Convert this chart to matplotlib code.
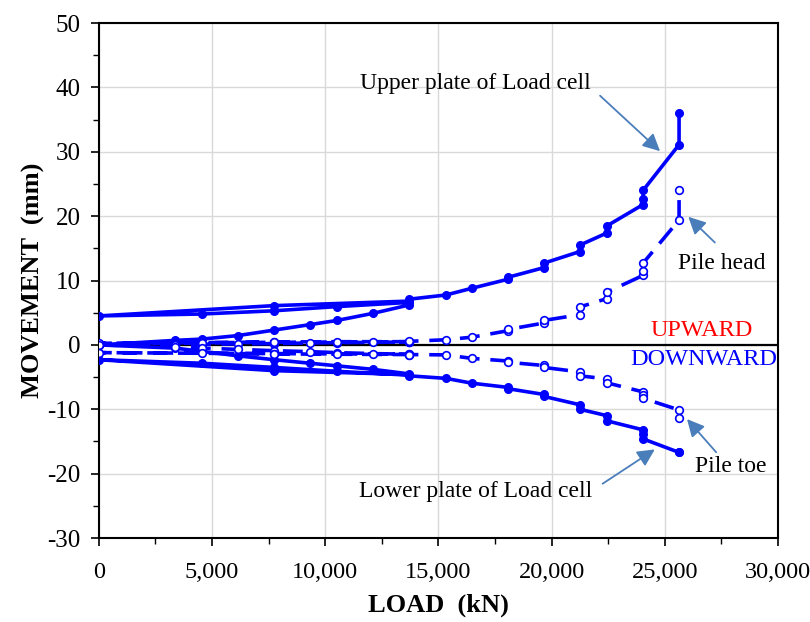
import matplotlib.pyplot as plt
import numpy as np

plt.rcParams['font.family'] = ['Liberation Serif', 'DejaVu Serif']
plt.rcParams['axes.unicode_minus'] = False

# load steps: first cycle to 13,700 kN, unload, reload to max
load_kN = [0, 3360, 4550, 6150, 7740, 9330, 10520, 12110, 13700, 13700,
           10520, 7740, 4550, 0,
           7740, 13700, 13700,
           15330, 16480, 18070, 18070, 19660, 19660, 21250, 21250,
           22450, 22450, 24040, 24040, 24040, 25630, 25630]

upper_plate = [0, 0.7, 0.9, 1.45, 2.3, 3.15, 3.8, 4.9, 6.2, 6.6,
               5.95, 5.3, 4.8, 4.5,
               6.1, 6.8, 7.1,
               7.75, 8.8, 10.2, 10.5, 12.0, 12.7, 14.5, 15.5,
               17.4, 18.5, 21.8, 22.6, 24.0, 31.1, 36.0]

lower_plate = [0, -0.5, -1.0, -1.7, -2.3, -2.85, -3.25, -3.8, -4.5, -4.7,
               -4.1, -3.5, -2.85, -2.3,
               -4.0, -4.6, -4.8,
               -5.2, -5.95, -6.6, -6.8, -7.7, -8.0, -9.3, -10.0,
               -11.0, -11.8, -13.2, -13.8, -14.6, -16.7, -16.7]

pile_head = [0, 0.05, 0.1, 0.15, 0.2, 0.3, 0.35, 0.4, 0.45, 0.5,
             0.5, 0.45, 0.35, 0.25,
             0.4, 0.5, 0.55,
             0.8, 1.2, 2.2, 2.4, 3.4, 3.8, 4.7, 5.9,
             7.2, 8.2, 10.8, 11.5, 12.7, 19.4, 24.1]

pile_toe = [0, -0.3, -0.5, -0.7, -0.9, -1.05, -1.2, -1.35, -1.45, -1.5,
            -1.45, -1.4, -1.3, -1.2,
            -1.35, -1.45, -1.5,
            -1.55, -2.1, -2.5, -2.7, -3.2, -3.5, -4.2, -4.8,
            -5.3, -5.9, -7.3, -7.8, -8.3, -10.1, -11.3]

blue = '#0000ff'
arrow_col = '#4a7ebb'

fig = plt.figure(figsize=(8.1, 6.22), dpi=100)
ax = fig.add_axes([0.122, 0.135, 0.8385, 0.828])

ax.axhline(0, color='black', lw=1.6, zorder=2)

ax.plot(load_kN, upper_plate, color=blue, lw=2.6, marker='o', ms=5.5, zorder=3)
ax.plot(load_kN, lower_plate, color=blue, lw=2.6, marker='o', ms=5.5, zorder=3)
ax.plot(load_kN, pile_head, color=blue, lw=2.6, ls=(0, (5.5, 3)), marker='o',
        ms=5.5, mfc='white', mec=blue, mew=1.2, zorder=3)
ax.plot(load_kN, pile_toe, color=blue, lw=2.6, ls=(0, (5.5, 3)), marker='o',
        ms=5.5, mfc='white', mec=blue, mew=1.2, zorder=3)

ax.set_xlim(0, 30000)
ax.set_ylim(-30, 50)
ax.set_xticks(np.arange(0, 30001, 5000))
ax.set_xticks(np.arange(0, 30001, 2500), minor=True)
ax.set_yticks(np.arange(-30, 51, 10))
ax.set_yticks(np.arange(-30, 51, 5), minor=True)
ax.set_xticklabels([f'{v:,}' for v in range(0, 30001, 5000)])
ax.tick_params(which='major', direction='out', length=6, width=1.2,
               labelsize=18, top=False, right=False)
ax.tick_params(which='minor', direction='out', length=4, width=1.0,
               top=False, right=False)
ax.tick_params(axis='x', which='major', pad=11, labelsize=17.5)
ax.tick_params(axis='y', which='major', pad=7)
ax.grid(True, which='major', color='#d9d9d9', lw=1.0)
ax.set_axisbelow(True)
for s in ax.spines.values():
    s.set_linewidth(1.5)

ax.set_xlabel('LOAD  (kN)', fontsize=19, fontweight='bold', labelpad=8)
ax.set_ylabel('MOVEMENT  (mm)', fontsize=19, fontweight='bold', labelpad=2)

arrow = dict(arrowstyle='-|>', color=arrow_col, lw=1.3, mutation_scale=26)

ax.text(16650, 40.6, 'Upper plate of Load cell', ha='center', va='center', fontsize=17)
ax.annotate('', xy=(24880, 29.8), xytext=(22050, 39.0), arrowprops=arrow)

ax.text(27530, 12.7, 'Pile head', ha='center', va='center', fontsize=17)
ax.annotate('', xy=(25950, 20.2), xytext=(27300, 15.6), arrowprops=arrow)

ax.text(27930, -18.9, 'Pile toe', ha='center', va='center', fontsize=17)
ax.annotate('', xy=(25900, -11.2), xytext=(27350, -17.0), arrowprops=arrow)

ax.text(16650, -22.7, 'Lower plate of Load cell', ha='center', va='center', fontsize=17)
ax.annotate('', xy=(24660, -16.0), xytext=(22150, -21.8), arrowprops=arrow)

ax.text(26650, 2.2, 'UPWARD', color='red', ha='center', va='center', fontsize=17.5)
ax.text(26700, -2.3, 'DOWNWARD', color=blue, ha='center', va='center', fontsize=17.5)

fig.savefig('out.png', dpi=100)
